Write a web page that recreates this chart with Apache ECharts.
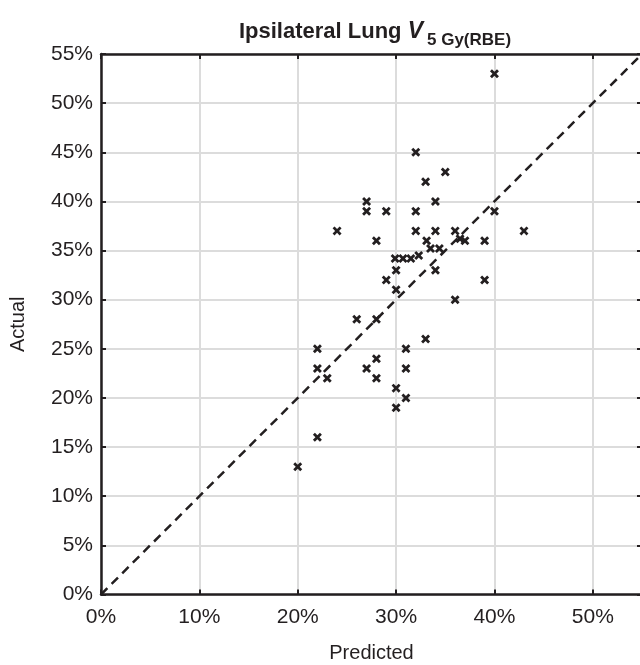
<!DOCTYPE html>
<html>
<head>
<meta charset="utf-8">
<script src="https://cdn.jsdelivr.net/npm/echarts@6/dist/echarts.min.js"></script>
<style>
  html, body { margin: 0; padding: 0; background: #fff; }
  #chart { width: 640px; height: 665px; }
</style>
</head>
<body>
<div id="chart"></div>
<script>
// predicted vs actual, in %
const predicted = [20, 22, 22, 22, 23, 24, 26, 27, 27, 27, 28, 28, 28, 28, 29, 29,
  29.9, 30, 30, 30, 30, 30.7, 31.5, 32.3, 31, 31, 31, 32, 32, 32,
  33, 33.1, 33.5, 33, 34, 34, 34.4, 34, 35, 36, 36.5, 37, 36, 39, 39, 40, 40, 43]
const actual = [13, 16, 25, 23, 22, 37, 28, 40, 39, 23, 36, 28, 24, 22, 39, 32,
  34.2, 33, 31, 21, 19, 34.2, 34.2, 34.5, 25, 23, 20, 45, 39, 37,
  42, 36, 35.2, 26, 40, 37, 35.2, 33, 43, 37, 36.2, 36, 30, 36, 32, 53, 39, 37]
const identityLine = [0, 55]
const xTicks = [0, 10, 20, 30, 40, 50]
const yTicks = [0, 5, 10, 15, 20, 25, 30, 35, 40, 45, 50, 55]

const INK = '#231f20'
const FONT = '"Liberation Sans", Arial, sans-serif'
const cross = 'path://M0,2.2L2.2,0L5,2.8L7.8,0L10,2.2L7.2,5L10,7.8L7.8,10L5,7.2L2.2,10L0,7.8L2.8,5Z'

const chart = echarts.init(document.getElementById('chart'))

const line = () => ({ show: true, onZero: false, lineStyle: { color: INK, width: 2.5 } })
const tick = () => ({ show: true, inside: true, length: 5, lineStyle: { color: INK, width: 2 } })
const grid = () => ({ show: true, lineStyle: { color: '#dcdcdc', width: 2 } })

chart.setOption({
  animation: false,
  textStyle: { fontFamily: FONT },
  title: {
    left: 370, top: 10, textAlign: 'center',
    text: '{a|Ipsilateral Lung }{v|V}{s|5 Gy(RBE)}',
    textStyle: {
      rich: {
        a: { fontSize: 22, fontWeight: 'bold', color: INK, fontFamily: FONT },
        v: { fontSize: 23, fontWeight: 'bold', fontStyle: 'italic', color: INK, fontFamily: FONT },
        s: { fontSize: 17, fontWeight: 'bold', color: INK, fontFamily: FONT, padding: [17, 0, 0, 4] }
      }
    }
  },
  grid: {
    left: 101, top: 54, width: 541, height: 540.5,
    containLabel: false, outerBoundsMode: 'none'
  },
  xAxis: [{
    type: 'value', min: 0, max: 55, interval: 10, position: 'bottom',
    axisLine: line(), axisTick: tick(), splitLine: grid(),
    axisLabel: {
      formatter: v => xTicks.includes(v) ? v + '%' : '',
      showMaxLabel: false, fontSize: 21, color: INK, margin: 12, fontFamily: FONT
    },
    name: 'Predicted', nameLocation: 'middle', nameGap: 49,
    nameTextStyle: { fontSize: 20, color: INK, fontFamily: FONT }
  }, {
    type: 'value', min: 0, max: 55, interval: 10, position: 'top',
    axisLine: line(), axisTick: tick(), splitLine: { show: false }, axisLabel: { show: false }
  }],
  yAxis: [{
    type: 'value', min: 0, max: 55, interval: 5, position: 'left',
    axisLine: line(), axisTick: tick(), splitLine: grid(),
    axisLabel: {
      formatter: v => yTicks.includes(v) ? v + '%' : '',
      fontSize: 21, color: INK, margin: 8, fontFamily: FONT, padding: [5, 0, 0, 0]
    },
    name: 'Actual', nameLocation: 'middle', nameGap: 73,
    nameTextStyle: { fontSize: 20, color: INK, fontFamily: FONT }
  }, {
    type: 'value', min: 0, max: 55, interval: 5, position: 'right',
    axisLine: line(), axisTick: tick(), splitLine: { show: false }, axisLabel: { show: false }
  }],
  series: [{
    type: 'line',
    data: identityLine.map(v => [v, v]),
    symbol: 'none',
    lineStyle: { color: INK, width: 2.5, type: [9, 6] },
    z: 2
  }, {
    type: 'scatter',
    data: predicted.map((p, i) => [p, actual[i]]),
    symbol: cross,
    symbolSize: 9,
    itemStyle: { color: INK, opacity: 1 },
    z: 3
  }]
})
</script>
</body>
</html>
